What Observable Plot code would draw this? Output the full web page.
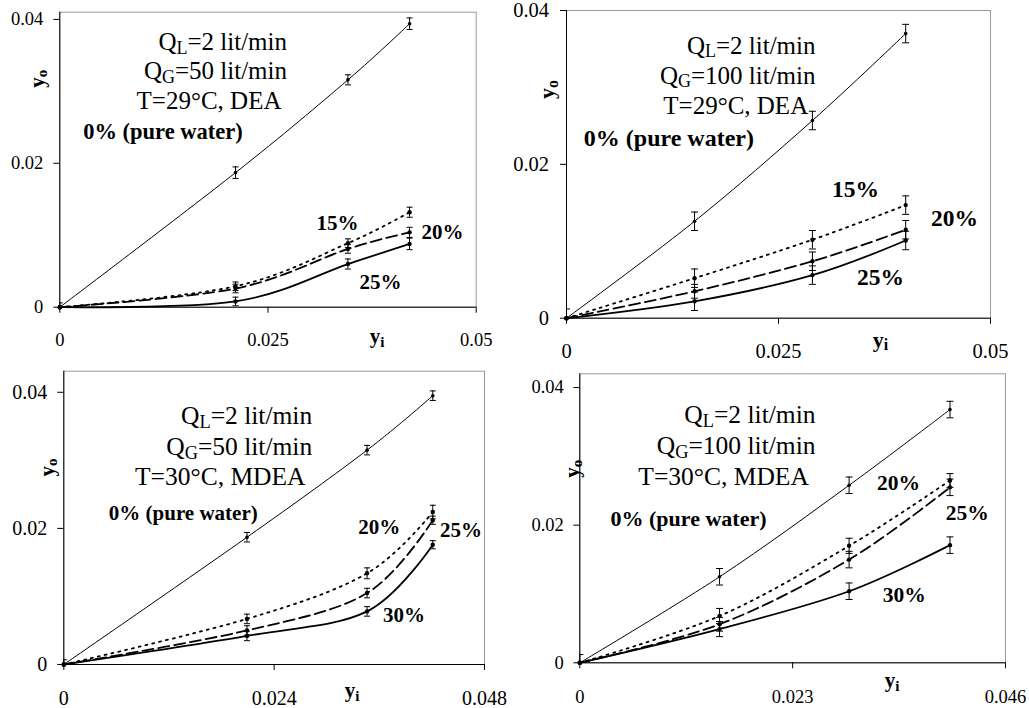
<!DOCTYPE html>
<html><head><meta charset="utf-8">
<script src="https://cdn.jsdelivr.net/npm/d3@7"></script>
<script src="https://cdn.jsdelivr.net/npm/@observablehq/plot@0.6"></script>
<style>
html,body{margin:0;padding:0;background:#fff;}
#wrap{position:relative;width:1029px;height:708px;overflow:hidden;background:#fff;}
#wrap svg{position:absolute;}
</style></head><body><div id="wrap"></div>
<script>
// ---------------- DATA ----------------
// Panel 1: QL=2, QG=50, T=29°C, DEA
const p1Yi = [0, 0.0211, 0.0346, 0.0420];
const p1Water = [0, 0.0187, 0.0316, 0.0394];
const p1Dea15 = [0, 0.0029, 0.0089, 0.0132];
const p1Dea20 = [0, 0.0026, 0.0081, 0.0104];
const p1Dea25 = [0, 0.0008, 0.0060, 0.0088];
const p1ErrWater = [0.0006, 0.0008, 0.0007, 0.0008];
const p1Err15 = [0, 0.0006, 0.0006, 0.0007];
const p1Err20 = [0, 0.0006, 0.0006, 0.0007];
const p1Err25 = [0, 0.0006, 0.0007, 0.0008];
const p1XTicks = [0, 0.025, 0.05];
const p1XTickLabels = ["0", "0.025", "0.05"];
const p1Notes = ["Q_{L}=2 lit/min", "Q_{G}=50 lit/min", "T=29°C, DEA"];
const p1SeriesLabels = ["0% (pure water)", "15%", "20%", "25%"];

// Panel 2: QL=2, QG=100, T=29°C, DEA
const p2Yi = [0, 0.0151, 0.0290, 0.0400];
const p2Water = [0, 0.0126, 0.0257, 0.0370];
const p2Dea15 = [0, 0.0052, 0.0102, 0.0147];
const p2Dea20 = [0, 0.0035, 0.0074, 0.0115];
const p2Dea25 = [0, 0.0022, 0.0056, 0.0101];
const p2ErrWater = [0.0012, 0.0012, 0.0012, 0.0012];
const p2Err15 = [0, 0.0012, 0.0012, 0.0012];
const p2Err20 = [0, 0.0009, 0.0012, 0.0012];
const p2Err25 = [0, 0.0012, 0.0012, 0.0012];
const p2XTicks = [0, 0.025, 0.05];
const p2XTickLabels = ["0", "0.025", "0.05"];
const p2Notes = ["Q_{L}=2 lit/min", "Q_{G}=100 lit/min", "T=29°C, DEA"];
const p2SeriesLabels = ["0% (pure water)", "15%", "20%", "25%"];

// Panel 3: QL=2, QG=50, T=30°C, MDEA
const p3Yi = [0, 0.0209, 0.0346, 0.0421];
const p3Water = [0, 0.0187, 0.0315, 0.0395];
const p3Mdea20 = [0, 0.0067, 0.0134, 0.0224];
const p3Mdea25 = [0, 0.0050, 0.0105, 0.0212];
const p3Mdea30 = [0, 0.0042, 0.0078, 0.0176];
const p3ErrWater = [0.0007, 0.0007, 0.0007, 0.0007];
const p3Err20 = [0, 0.0007, 0.0008, 0.0010];
const p3Err25 = [0, 0.0007, 0.0007, 0.0006];
const p3Err30 = [0, 0.0007, 0.0007, 0.0006];
const p3XTicks = [0, 0.024, 0.048];
const p3XTickLabels = ["0", "0.024", "0.048"];
const p3Notes = ["Q_{L}=2 lit/min", "Q_{G}=50 lit/min", "T=30°C, MDEA"];
const p3SeriesLabels = ["0% (pure water)", "20%", "25%", "30%"];

// Panel 4: QL=2, QG=100, T=30°C, MDEA
const p4Yi = [0, 0.0151, 0.0291, 0.0400];
const p4Water = [0, 0.0125, 0.0258, 0.0368];
const p4Mdea20 = [0, 0.0068, 0.0170, 0.0265];
const p4Mdea25 = [0, 0.0056, 0.0150, 0.0255];
const p4Mdea30 = [0, 0.0049, 0.0104, 0.0171];
const p4ErrWater = [0.0012, 0.0012, 0.0012, 0.0012];
const p4Err20 = [0, 0.0011, 0.0011, 0.0010];
const p4Err25 = [0, 0.0010, 0.0012, 0.0012];
const p4Err30 = [0, 0.0011, 0.0012, 0.0012];
const p4XTicks = [0, 0.023, 0.046];
const p4XTickLabels = ["0", "0.023", "0.046"];
const p4Notes = ["Q_{L}=2 lit/min", "Q_{G}=100 lit/min", "T=30°C, MDEA"];
const p4SeriesLabels = ["0% (pure water)", "20%", "25%", "30%"];

const yTicks = [0, 0.02, 0.04];
const yTickLabels = ["0", "0.02", "0.04"];
const xAxisLabel = "y_{i}";
const yAxisLabel = "y_{o}";

// ---------------- STYLES / LAYOUT ----------------
const lineStyles = [
  {strokeWidth: 1},                                  // 0% pure water: thin solid
  {strokeWidth: 1.8, strokeDasharray: "2,5"},         // dotted
  {strokeWidth: 1.8, strokeDasharray: "11,5"},        // dashed
  {strokeWidth: 1.8}                                  // thick solid
];

const panels = [
  {
    box: {x: 0, y: 0, w: 510, h: 362}, frame: {L: 59.3, R: 475.7, T: 11.7, B: 306.7},
    xDomain: [0, 0.05], yDomain: [0, 0.041],
    xs: p1Yi, ys: [p1Water, p1Dea15, p1Dea20, p1Dea25], es: [p1ErrWater, p1Err15, p1Err20, p1Err25],
    xTicks: p1XTicks, xTickLabels: p1XTickLabels, notes: p1Notes, labels: p1SeriesLabels,
    tickFont: 18.5, xLabelDy: 32.8, yLabelDx: -16.5, noteFont: 25, capR: 3,
    notePos: [[227.2, 30], [227.2, 58.5], [221.7, 88.5]],
    labelPos: [[23.4, 120, 22.5], [277.7, 211, 21], [382.7, 220, 21], [320.7, 270, 21]],
    yoPos: [-22.6, 66.6], yiPos: [317.4, 324.3], axisFont: 21
  },
  {
    box: {x: 515, y: 0, w: 514, h: 362}, frame: {L: 566, R: 990, T: 10, B: 317.7},
    xDomain: [0, 0.05], yDomain: [0, 0.04],
    xs: p2Yi, ys: [p2Water, p2Dea15, p2Dea20, p2Dea25], es: [p2ErrWater, p2Err15, p2Err20, p2Err25],
    xTicks: p2XTicks, xTickLabels: p2XTickLabels, notes: p2Notes, labels: p2SeriesLabels,
    tickFont: 20.5, xLabelDy: 33.3, yLabelDx: -17.5, noteFont: 25, capR: 3.5,
    notePos: [[249, 35], [249, 65], [241.7, 95]],
    labelPos: [[17.3, 128.3, 24], [289, 179.3, 23.5], [388, 208.3, 23.5], [314, 267.3, 23.5]],
    yoPos: [-19.3, 79], yiPos: [314, 329.3], axisFont: 22
  },
  {
    box: {x: 0, y: 362, w: 510, h: 346}, frame: {L: 63.3, R: 484, T: 370.7, B: 664},
    xDomain: [0, 0.048], yDomain: [0, 0.0431],
    xs: p3Yi, ys: [p3Water, p3Mdea20, p3Mdea25, p3Mdea30], es: [p3ErrWater, p3Err20, p3Err25, p3Err30],
    xTicks: p3XTicks, xTickLabels: p3XTickLabels, notes: p3Notes, labels: p3SeriesLabels,
    tickFont: 20, xLabelDy: 34.3, yLabelDx: -16.6, noteFont: 25.5, capR: 3,
    notePos: [[248.4, 45], [248.4, 76], [241.7, 106]],
    labelPos: [[45, 141.6, 21], [315.4, 156, 21], [397.2, 158.6, 21], [340.2, 244.3, 21]],
    yoPos: [-16.6, 96.3], yiPos: [288.4, 319.3], axisFont: 21
  },
  {
    box: {x: 515, y: 362, w: 514, h: 346}, frame: {L: 579.3, R: 1005, T: 373.3, B: 662.3},
    xDomain: [0, 0.046], yDomain: [0, 0.042],
    xs: p4Yi, ys: [p4Water, p4Mdea20, p4Mdea25, p4Mdea30], es: [p4ErrWater, p4Err20, p4Err25, p4Err30],
    xTicks: p4XTicks, xTickLabels: p4XTickLabels, notes: p4Notes, labels: p4SeriesLabels,
    tickFont: 18.5, xLabelDy: 34.4, yLabelDx: -16, noteFont: 25.5, capR: 3.5,
    notePos: [[235.7, 41], [235.7, 71.7], [229, 102.7]],
    labelPos: [[30.7, 145, 22], [318.7, 109.4, 21.5], [387.4, 139.4, 21.5], [324.4, 221.7, 21.5]],
    yoPos: [-7.6, 95], yiPos: [312.4, 306.7], axisFont: 21
  }
];

// horizontal cap symbol for error bars
const capSymbol = {
  draw(ctx, size) {
    const r = Math.sqrt(size / Math.PI);
    ctx.moveTo(-r, 0);
    ctx.lineTo(r, 0);
  }
};

const NS = "http://www.w3.org/2000/svg";
function subscriptify(svg) {
  for (const t of svg.querySelectorAll("text")) {
    const s = t.textContent;
    if (!s.includes("_{")) continue;
    const parts = s.split(/(_\{[^}]*\})/).filter(p => p !== "");
    t.textContent = "";
    let shifted = false;
    for (const p of parts) {
      const ts = document.createElementNS(NS, "tspan");
      if (p.startsWith("_{")) {
        ts.textContent = p.slice(2, -1);
        ts.setAttribute("font-size", "72%");
        ts.setAttribute("dy", "0.22em");
        shifted = true;
      } else {
        ts.textContent = p;
        if (shifted) { ts.setAttribute("dy", "-0.1584em"); shifted = false; }
      }
      t.appendChild(ts);
    }
  }
}

const wrap = document.getElementById("wrap");

for (const cfg of panels) {
  const {box, frame} = cfg;
  const mL = frame.L - box.x, mR = box.x + box.w - frame.R;
  const mT = frame.T - box.y, mB = box.y + box.h - frame.B;

  const seriesRows = cfg.ys.map((vals, s) =>
    cfg.xs.map((xv, i) => ({x: xv, y: vals[i], e: cfg.es[s][i], s})));
  const errRows = seriesRows.flat().filter(d => d.e > 0);
  const capRows = errRows.flatMap(d => [{x: d.x, y: d.y - d.e}, {x: d.x, y: d.y + d.e}]);

  const marks = [
    Plot.frame({stroke: "#9a9a9a", strokeWidth: 1}),
    Plot.ruleY([cfg.yDomain[0]], {stroke: "black", strokeWidth: 1}),
    Plot.ruleX([cfg.xDomain[0]], {stroke: "black", strokeWidth: 1}),
    Plot.axisX({ticks: cfg.xTicks, tickSize: 6, tickFormat: () => "", label: null}),
    Plot.axisY({ticks: yTicks, tickSize: 6, tickFormat: () => "", label: null}),
    Plot.text(cfg.xTicks, {x: d => d, text: (d, i) => cfg.xTickLabels[i], frameAnchor: "bottom",
      dy: cfg.xLabelDy, lineAnchor: "middle", textAnchor: "middle", fontSize: cfg.tickFont}),
    Plot.text(yTicks, {y: d => d, text: (d, i) => yTickLabels[i], frameAnchor: "left",
      dx: cfg.yLabelDx, lineAnchor: "middle", textAnchor: "end", fontSize: cfg.tickFont}),
    // error bars
    Plot.ruleX(errRows, {x: "x", y1: d => d.y - d.e, y2: d => d.y + d.e, stroke: "black", strokeWidth: 1, clip: true}),
    Plot.dot(capRows, {x: "x", y: "y", symbol: capSymbol, r: cfg.capR, stroke: "black", fill: "none", strokeWidth: 1, clip: true}),
  ];
  seriesRows.forEach((rows, s) => {
    marks.push(Plot.line(rows, {x: "x", y: "y", curve: "cardinal", stroke: "black", ...lineStyles[s]}));
    marks.push(Plot.dot(rows, {x: "x", y: "y", r: s === 0 ? 1.8 : 2.2, fill: "black", stroke: "none"}));
  });
  // condition notes
  cfg.notes.forEach((txt, i) => {
    marks.push(Plot.text([txt], {text: d => d, frameAnchor: "top-left", dx: cfg.notePos[i][0], dy: cfg.notePos[i][1],
      textAnchor: "end", lineAnchor: "middle", fontSize: cfg.noteFont}));
  });
  // series labels
  cfg.labels.forEach((txt, i) => {
    const [dx, dy, fs] = cfg.labelPos[i];
    marks.push(Plot.text([txt], {text: d => d, frameAnchor: "top-left", dx, dy,
      textAnchor: i === 0 ? "start" : "middle", lineAnchor: "middle", fontSize: fs, fontWeight: "bold"}));
  });
  // axis titles
  marks.push(Plot.text([yAxisLabel], {text: d => d, frameAnchor: "top-left", dx: cfg.yoPos[0], dy: cfg.yoPos[1],
    rotate: -90, textAnchor: "middle", lineAnchor: "middle", fontSize: cfg.axisFont, fontWeight: "bold"}));
  marks.push(Plot.text([xAxisLabel], {text: d => d, frameAnchor: "top-left", dx: cfg.yiPos[0], dy: cfg.yiPos[1],
    textAnchor: "middle", lineAnchor: "middle", fontSize: cfg.axisFont, fontWeight: "bold"}));

  const svg = Plot.plot({
    width: box.w, height: box.h,
    marginLeft: mL, marginRight: mR, marginTop: mT, marginBottom: mB,
    x: {type: "linear", domain: cfg.xDomain},
    y: {type: "linear", domain: cfg.yDomain},
    style: {fontFamily: "'Liberation Serif', 'Times New Roman', serif", color: "black", background: "transparent", overflow: "visible"},
    marks
  });
  subscriptify(svg);
  svg.style.left = box.x + "px";
  svg.style.top = box.y + "px";
  wrap.appendChild(svg);
}
</script>
</body></html>
